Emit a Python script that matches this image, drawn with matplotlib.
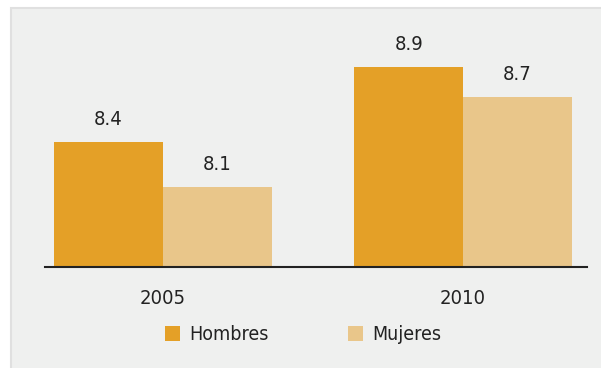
import matplotlib
matplotlib.use("Agg")
import matplotlib.pyplot as plt
from matplotlib.patches import Rectangle, Patch
import numpy as np

plt.rcParams['font.family'] = ['DejaVu Sans']
plt.rcParams['font.stretch'] = 'condensed'

years = ["2005", "2010"]
series = ["Hombres", "Mujeres"]
hombres = [8.4, 8.9]
mujeres = [8.1, 8.7]
colors = ["#E4A027", "#E9C68A"]

W, H = 601, 368
fig = plt.figure(figsize=(W / 100, H / 100), dpi=100)
fig.patch.set_facecolor("white")

# grey panel behind the chart
fig.patches.append(Rectangle((11 / W, -0.01), 1 - 11 / W + 0.01, 1 - 8 / H + 0.01,
                             transform=fig.transFigure, facecolor="#EFF0EF",
                             edgecolor="#E0E0E0", linewidth=1.5, zorder=-10))

ax = fig.add_axes([45 / W, 101.5 / H, (587 - 45) / W, (348 - 101.5) / H])
ax.set_facecolor("none")

x = np.arange(len(years))
w = 0.362
b1 = ax.bar(x - w / 2, hombres, w, color=colors[0], label=series[0], zorder=2)
b2 = ax.bar(x + w / 2, mujeres, w, color=colors[1], label=series[1], zorder=2)

base = 7.576
for bars in (b1, b2):
    for r in bars:
        r.set_y(base)
        r.set_height(r.get_height() - base)

for xs, vals in ((x - w / 2, hombres), (x + w / 2, mujeres)):
    for xi, v in zip(xs, vals):
        ax.annotate(f"{v:.1f}", (xi, v), xytext=(0, 13), textcoords="offset pixels",
                    ha="center", va="bottom", fontsize=14.5, color="#222222")

ax.set_xlim(-0.393, 1.413)
ax.set_ylim(base, base + 246.5 / 151)
ax.set_xticks(x)
ax.set_xticklabels(years, fontsize=14.5, color="#222222")
ax.tick_params(axis="x", length=0, pad=16)
ax.set_yticks([])
for s in ("top", "left", "right"):
    ax.spines[s].set_visible(False)
ax.spines["bottom"].set_color("#222222")
ax.spines["bottom"].set_linewidth(1.5)
ax.spines["bottom"].set_zorder(3)

handles = [Patch(facecolor=c, label=s) for c, s in zip(colors, series)]
fig.legend(handles=handles, loc="center", bbox_to_anchor=(303 / W, 33.5 / H),
           ncol=2, frameon=False, fontsize=14, handlelength=0.78, handleheight=0.78,
           handletextpad=0.45, columnspacing=4.1, labelcolor="#222222")

fig.savefig("out.png", dpi=100, facecolor=fig.get_facecolor())
